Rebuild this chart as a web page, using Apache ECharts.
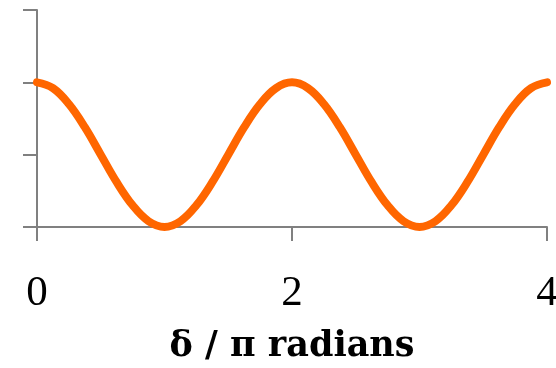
<!DOCTYPE html>
<html>
<head>
<meta charset="utf-8">
<script src="https://cdn.jsdelivr.net/npm/echarts@6/dist/echarts.min.js"></script>
<style>
html, body { margin: 0; padding: 0; background: #fff; }
#main { width: 556px; height: 368px; }
</style>
</head>
<body>
<div id="main"></div>
<script>
// delta / pi (x) and the intensity (y)
var xValues = [0, 0.125, 0.25, 0.375, 0.5, 0.625, 0.75, 0.875, 1,
    1.125, 1.25, 1.375, 1.5, 1.625, 1.75, 1.875, 2,
    2.125, 2.25, 2.375, 2.5, 2.625, 2.75, 2.875, 3,
    3.125, 3.25, 3.375, 3.5, 3.625, 3.75, 3.875, 4];
var yValues = [1, 0.96, 0.85, 0.69, 0.5, 0.31, 0.15, 0.04, 0,
    0.04, 0.15, 0.31, 0.5, 0.69, 0.85, 0.96, 1,
    0.96, 0.85, 0.69, 0.5, 0.31, 0.15, 0.04, 0,
    0.04, 0.15, 0.31, 0.5, 0.69, 0.85, 0.96, 1];
var xTitle = 'δ / π radians';

var points = xValues.map(function (x, i) { return [x, yValues[i]]; });

var myChart = echarts.init(document.getElementById('main'));
var axisGray = '#808080';
option = {
    animation: false,
    grid: { left: 37, right: 9, top: 10, bottom: 141, outerBoundsMode: 'none', containLabel: false },
    xAxis: {
        type: 'value',
        min: 0,
        max: 4,
        interval: 2,
        name: xTitle,
        nameLocation: 'middle',
        nameGap: 120,
        nameTextStyle: {
            fontFamily: 'DejaVu Serif',
            fontWeight: 'bold',
            fontSize: 35,
            verticalAlign: 'middle',
            color: '#000'
        },
        axisLine: { onZero: false, lineStyle: { color: axisGray, width: 2 } },
        axisTick: { length: 14, lineStyle: { color: axisGray, width: 2 } },
        axisLabel: {
            margin: 67,
            fontFamily: 'Liberation Serif',
            fontSize: 43,
            verticalAlign: 'middle',
            color: '#000'
        },
        splitLine: { show: false }
    },
    yAxis: {
        type: 'value',
        min: 0,
        max: 1.5,
        interval: 0.5,
        axisLine: { show: true, lineStyle: { color: axisGray, width: 2 } },
        axisTick: { show: true, length: 14, lineStyle: { color: axisGray, width: 2 } },
        axisLabel: { show: false },
        splitLine: { show: false }
    },
    series: [{
        type: 'line',
        data: points,
        smooth: 0.4,
        symbol: 'none',
        lineStyle: { color: '#FF6600', width: 8, cap: 'round' }
    }]
};
myChart.setOption(option, true);
</script>
</body>
</html>
